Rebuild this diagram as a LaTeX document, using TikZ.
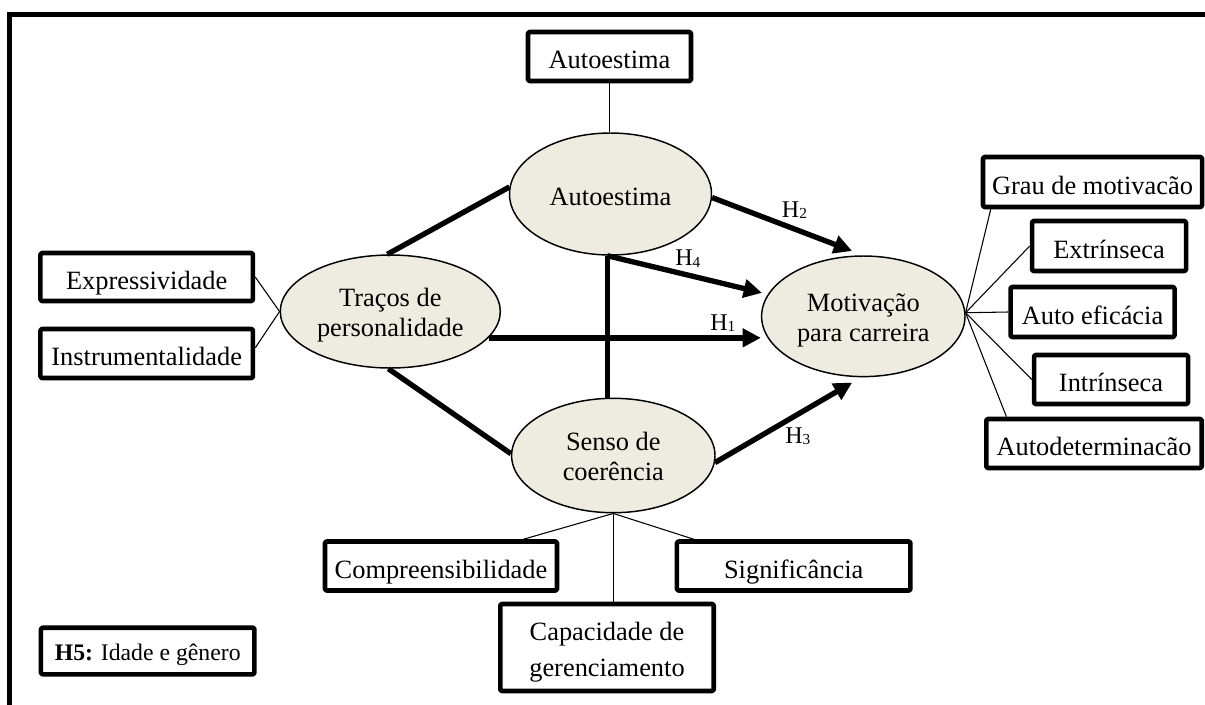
\documentclass[tikz,border=0pt]{standalone}
\usepackage{fontspec}
\setmainfont{Liberation Serif}
\usetikzlibrary{arrows.meta,shapes.geometric}
\definecolor{ellfill}{HTML}{EEECE1}
\newcommand\hsub[1]{H\raisebox{-1pt}{\fontsize{11.5}{11.5}\selectfont #1}}

\begin{document}
\begin{tikzpicture}[x=0.75pt,y=-0.75pt,
  box/.style={draw, line width=3.4pt, line join=round, rounded corners=1pt, fill=white, inner sep=0pt,
    font=\fontsize{19.8}{22.5}\selectfont, text height=18pt, text depth=0pt},
  ell/.style={draw, ellipse, line width=1.1pt, fill=ellfill, inner sep=0pt,
    font=\fontsize{19.8}{22.5}\selectfont, text depth=23.2pt},
  conn/.style={line width=0.8pt},
  thickline/.style={line width=4pt},
  arr/.style={line width=4pt, -{Triangle[length=13.7pt,width=13.5pt]}},
  lab/.style={inner sep=0pt, font=\fontsize{18}{20}\selectfont},
]
\useasboundingbox (0,0) rectangle (1205,704);
\clip (0,0) rectangle (1205,704);

% outer frame (cut by the page on the right and at the bottom)
\draw[line width=3.6pt] (9.3,730) -- (9.3,14.3) -- (1230,14.3);

% top indicator box
\node[box, minimum width=122.25pt, minimum height=36.75pt] (aetop) at (609.5,56.5) {Autoestima};

% latent variables
\node[ell, minimum width=151.5pt, minimum height=91.5pt, text height=16.5pt, text depth=0pt] (aut) at (610.5,194) {Autoestima};
\node[ell, minimum width=165pt, minimum height=84.75pt] (tra) at (390.3,311.5)
  {\begin{tabular}[t]{@{}c@{}}Traços de\\personalidade\end{tabular}};
\node[ell, minimum width=152.55pt, minimum height=90.45pt] (mot) at (863.3,316.3)
  {\begin{tabular}[t]{@{}c@{}}Motivação\\para carreira\end{tabular}};
\node[ell, minimum width=152.55pt, minimum height=85.8pt] (sen) at (613.3,455.5)
  {\begin{tabular}[t]{@{}c@{}}Senso de\\coerência\end{tabular}};

% left indicators
\node[box, minimum width=159.4pt, minimum height=36pt] (expr) at (146.7,277) {Expressividade};
\node[box, minimum width=159.4pt, minimum height=36.75pt] (inst) at (146.7,353.5) {Instrumentalidade};

% right indicators
\node[box, minimum width=164.25pt, minimum height=37.5pt] (grau) at (1092.5,182) {Grau de motivacão};
\node[box, minimum width=115.5pt, minimum height=37.5pt] (ext) at (1109,246) {Extrínseca};
\node[box, minimum width=123pt, minimum height=37.5pt] (aef) at (1092.5,312) {Auto eficácia};
\node[box, minimum width=115.5pt, minimum height=36.75pt] (intr) at (1111,379.5) {Intrínseca};
\node[box, minimum width=161.6pt, minimum height=36.75pt] (aud) at (1094,443.5) {Autodeterminacão};

% bottom indicators
\node[box, minimum width=174pt, minimum height=36.75pt] (com) at (441,566) {Compreensibilidade};
\node[box, minimum width=175.1pt, minimum height=36.75pt] (sig) at (793.7,566) {Significância};
\node[box, minimum width=160.1pt, minimum height=65.25pt,
  font=\fontsize{19.8}{27}\selectfont, text height=18.9pt, text depth=29.1pt] (cap) at (607,647.5)
  {\begin{tabular}[t]{@{}c@{}}Capacidade de\\gerenciamento\end{tabular}};

% H5 box
\node[box, minimum width=160.1pt, minimum height=34.9pt,
  font=\fontsize{17.8}{20}\selectfont, text height=13.5pt] (h5) at (147.7,651)
  {\textbf{H5:} Idade e gênero};

% thin indicator connectors
\draw[conn] (aetop.south) -- (aetop.south |- aut.north);
\draw[conn] (expr.east) -- (tra.west);
\draw[conn] (inst.3) -- (tra.west);
\draw[conn] (mot.2) -- (grau.195);
\draw[conn] (mot.2) -- (ext.west);
\draw[conn] (mot.2) -- (aef.west);
\draw[conn] (mot.2) -- (intr.west);
\draw[conn] (mot.2) -- (aud.163.5);
\draw[conn] (sen.south) -- (com.18);
\draw[conn] (sen.south) -- (sen.south |- cap.north);
\draw[conn] (sen.south) -- (sig.165);

% structural paths
\draw[thickline] (tra.93) -- (aut.176);
\draw[thickline] (tra.268) -- (sen.179);
\draw[thickline] (aut.267) -- (aut.267 |- sen.north);
\draw[arr] (tra.-15) -- (tra.-15 -| mot.west);
\draw[arr, shorten >=9pt] (aut.-2) -- (mot.north);
\draw[arr, shorten >=4.5pt] (aut.267) -- (mot.167);
\draw[arr, shorten >=7.8pt] (sen.-4) -- (mot.268);

% hypothesis labels
\node[lab, anchor=base west] (lh2) at (781.7,217.3) {\hsub{2}};
\node[lab, anchor=base west] (lh4) at (675,265.7) {\hsub{4}};
\node[lab, anchor=base west] (lh1) at (710,330) {\hsub{1}};
\node[lab, anchor=base west] (lh3) at (785,443.3) {\hsub{3}};
\end{tikzpicture}
\end{document}
